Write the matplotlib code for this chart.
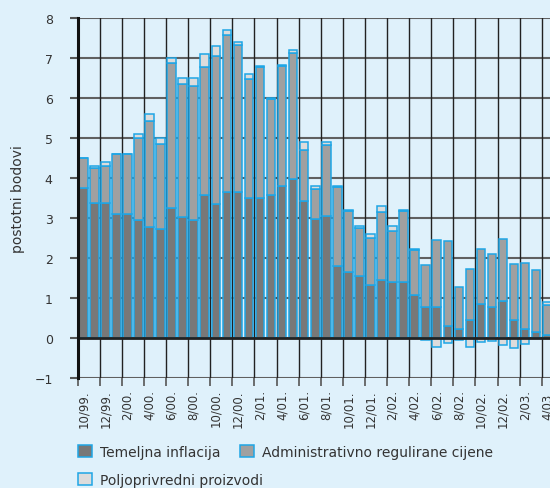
import matplotlib
matplotlib.use("Agg")
import matplotlib.pyplot as plt
import numpy as np

# months 10/99 .. 4/03
months = []
for y in range(1999, 2004):
    for m in range(1, 13):
        if (y == 1999 and m < 10) or (y == 2003 and m > 4):
            continue
        months.append("%d/%02d." % (m, y % 100))

temeljna = [3.76, 3.37, 3.37, 3.10, 3.10, 2.95, 2.78, 2.72, 3.26, 3.02,
            2.95, 3.58, 3.34, 3.66, 3.66, 3.50, 3.50, 3.58, 3.81, 3.98,
            3.42, 2.97, 3.04, 1.79, 1.64, 1.56, 1.32, 1.46, 1.39, 1.39,
            1.08, 0.77, 0.77, 0.30, 0.23, 0.46, 0.85, 0.77, 0.93, 0.45,
            0.22, 0.14, 0.07]
administrativne = [0.73, 0.87, 0.93, 1.49, 1.49, 2.05, 2.64, 2.13, 3.61, 3.34,
                   3.35, 3.20, 3.72, 3.92, 3.67, 2.97, 3.28, 2.40, 3.00, 3.14,
                   1.27, 0.75, 1.79, 1.99, 1.54, 1.19, 1.17, 1.68, 1.28, 1.79,
                   1.13, 1.06, 1.67, 2.12, 1.04, 1.27, 1.37, 1.32, 1.55, 1.40,
                   1.65, 1.56, 0.75]
poljoprivreda = [0.02, 0.07, 0.10, 0.01, 0.01, 0.10, 0.18, 0.15, 0.14, 0.15,
                 0.21, 0.33, 0.24, 0.12, 0.08, 0.14, 0.02, 0.02, 0.01, 0.09,
                 0.22, 0.08, 0.07, 0.01, 0.02, 0.05, 0.12, 0.15, 0.13, 0.03,
                 0.01, -0.04, -0.23, -0.12, -0.06, -0.22, -0.11, -0.08, -0.17, -0.25,
                 -0.16, -0.01, 0.08]

bg = "#dff1fb"
edge = "#1ea6e6"
x = np.arange(len(months))
t = np.array(temeljna)
a = np.array(administrativne)
p = np.array(poljoprivreda)

fig = plt.figure(figsize=(5.5, 4.89), dpi=100, facecolor=bg)
ax = fig.add_axes([0.1413, 0.225, 0.8587, 0.736], facecolor=bg)

w = 0.78
b1 = ax.bar(x, t, w, color="#787878", edgecolor=edge, linewidth=1.1, zorder=3,
            label="Temeljna inflacija")
b2 = ax.bar(x, a, w, bottom=t, color="#a0a0a0", edgecolor=edge, linewidth=1.1, zorder=3,
            label="Administrativno regulirane cijene")
pb = np.where(p >= 0, t + a, 0)
b3 = ax.bar(x, p, w, bottom=pb, color="#dcdcdc", edgecolor=edge, linewidth=1.1, zorder=3,
            label="Poljoprivredni proizvodi")

ax.set_ylim(-1, 8)
ax.set_xlim(-0.5, 42.25)
ax.set_yticks(range(-1, 9))
ax.set_yticklabels([("\u2212%d" % -v) if v < 0 else str(v) for v in range(-1, 9)])
ax.set_xticks(np.arange(0, 43, 2) - 0.5)
ax.set_xticklabels([])
ax.set_xticks(np.arange(0, 43, 2), minor=True)
ax.set_xticklabels(months[::2], minor=True, rotation=90, fontsize=8.5, color="#333333")
ax.tick_params(axis="x", which="minor", length=0, pad=8)
ax.tick_params(axis="x", which="major", length=6, width=1.2, color="#555555")
ax.tick_params(axis="y", length=6, width=1.5, color="#555555", labelsize=9,
               labelcolor="#333333", pad=12)

for v in range(-1, 9):
    ax.axhline(v, color="#606060", lw=1.5, zorder=1)
for xv in np.arange(0, 43, 2) - 0.5:
    ax.axvline(xv, color="#222222", lw=1.0, zorder=1)
ax.axhline(0, color="#222222", lw=2.0, zorder=4)

for s in ["top", "right", "bottom"]:
    ax.spines[s].set_visible(False)
ax.spines["left"].set_linewidth(2.2)
ax.spines["left"].set_color("#111111")
ax.spines["left"].set_zorder(5)

ax.set_ylabel("postotni bodovi", fontsize=10, color="#333333")
ax.yaxis.set_label_coords(-0.112, 0.5)

kw = dict(loc="center left", frameon=False, fontsize=10, handlelength=1.0,
          handleheight=1.0, handletextpad=0.6, columnspacing=1.4, borderpad=0)
leg1 = fig.legend([b1, b2], [b1.get_label(), b2.get_label()], ncol=2,
                  bbox_to_anchor=(0.129, 1 - 453 / 489), **kw)
leg2 = fig.legend([b3], [b3.get_label()], bbox_to_anchor=(0.129, 1 - 481 / 489), **kw)
for lg in (leg1, leg2):
    for txt in lg.get_texts():
        txt.set_color("#333333")

fig.savefig("out.png", dpi=100, facecolor=bg)
